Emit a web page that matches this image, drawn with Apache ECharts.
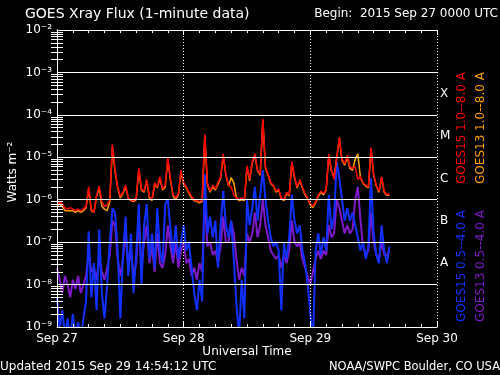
<!DOCTYPE html>
<html><head><meta charset="utf-8">
<script src="https://cdn.jsdelivr.net/npm/echarts@6/dist/echarts.min.js"></script>
<style>html,body{margin:0;padding:0;background:#000;}#c{width:500px;height:375px;}</style>
</head><body><div id="c"></div>
<script>
// ---- data (hours since 2015 Sep 27 00:00 UTC) ----
const hours = [
 0,0.5,1,1.5,2,2.5,3,3.5,4,4.5, 5,5.5,6,6.5,7,7.5,8,8.5,9,9.5,
 10,10.5,11,11.5,12,12.5,13,13.5,14,14.5, 15,15.5,16,16.5,17,17.5,18,18.5,19,19.5,
 20,20.5,21,21.5,22,22.5,23,23.5,24,24.5, 25,25.5,26,26.5,27,27.5,28,28.5,29,29.5,
 30,30.5,31,31.5,32,32.5,33,33.5,34,34.5, 35,35.5,36,36.5,37,37.5,38,38.5,39,39.5,
 40,40.5,41,41.5,42,42.5,43,43.5,44,44.5, 45,45.5,46,46.5,47,47.5,48,48.5,49,49.5,
 50,50.5,51,51.5,52,52.5,53,53.5,54,54.5, 55,55.5,56,56.5,57,57.5,58,58.5,59,59.5,
 60,60.5,61,61.5,62,62.5,63
];
const goes15Long = [
 7.5e-7,9e-7,8e-7,6.5e-7,6e-7,6.5e-7,6e-7,5.5e-7,6e-7,5.5e-7,
 6e-7,7e-7,2e-6,6e-7,5e-7,1.3e-6,2.1e-6,9e-7,7e-7,7.5e-7,
 1e-6,2e-5,5e-6,2e-6,1.2e-6,1.5e-6,2.2e-6,1.1e-6,1e-6,9.5e-7,
 1.1e-6,5.5e-6,1.8e-6,1.6e-6,3e-6,1.2e-6,1e-6,2.5e-6,2e-6,3.5e-6,
 1.8e-6,2.2e-6,1e-5,3e-6,1.3e-6,1.1e-6,1.4e-6,5e-6,2.5e-6,2e-6,
 1.5e-6,1.2e-6,1e-6,9.5e-7,9e-7,9.5e-7,3.5e-5,2.5e-6,1.6e-6,2.2e-6,
 1.8e-6,2.5e-6,3.5e-6,1.2e-5,4e-6,2.2e-6,2e-6,1.3e-6,1.1e-6,1e-6,
 1.1e-6,1e-6,6.3e-6,3e-6,8e-6,1.2e-5,5e-6,4e-6,8e-5,6e-6,
 4e-6,2.5e-6,2.2e-6,1.6e-6,1.8e-6,1.1e-6,1e-6,1.5e-6,1.3e-6,8e-6,
 3.5e-6,2e-6,3e-6,2e-6,1.4e-6,1.1e-6,8e-7,7e-7,9e-7,1.3e-6,
 1.6e-6,1.4e-6,1.8e-6,1.2e-5,5e-6,3e-6,1e-5,3e-5,9e-6,7e-6,
 1.1e-5,6e-6,5.5e-6,6e-6,3e-6,3.5e-6,2.5e-6,2.2e-6,2e-6,1.7e-5,
 4e-6,2.2e-6,1.6e-6,3.5e-6,1.6e-6,1.3e-6,1.4e-6
];
const goes13Long = [
 7e-7,8e-7,7e-7,5.5e-7,5.5e-7,5.5e-7,5.5e-7,5e-7,5.5e-7,5e-7,
 5.5e-7,6.5e-7,1.8e-6,5.5e-7,5e-7,1.2e-6,1.9e-6,7e-7,6e-7,5.5e-7,
 9e-7,1.8e-5,4.5e-6,1.9e-6,1.1e-6,1.4e-6,2e-6,1.1e-6,9.5e-7,9e-7,
 1e-6,5e-6,1.7e-6,1.5e-6,2.8e-6,1.1e-6,9.5e-7,2.3e-6,1.9e-6,3.2e-6,
 1.7e-6,2e-6,9e-6,2.8e-6,1.2e-6,1e-6,1.3e-6,4.5e-6,2.3e-6,1.9e-6,
 1.4e-6,1.1e-6,9.5e-7,9e-7,8.5e-7,9e-7,3.2e-5,2.3e-6,1.5e-6,2e-6,
 1.7e-6,2.3e-6,3.2e-6,1.1e-5,3.8e-6,2.1e-6,3.3e-6,2.5e-6,1.1e-6,9.5e-7,
 1e-6,9.5e-7,6e-6,2.8e-6,7.5e-6,1.1e-5,4.8e-6,3.8e-6,7.5e-5,5.5e-6,
 3.8e-6,2.4e-6,2.1e-6,1.5e-6,1.7e-6,1.05e-6,9.5e-7,1.4e-6,1.25e-6,7.5e-6,
 3.3e-6,1.9e-6,2.8e-6,1.9e-6,1.3e-6,1.05e-6,7.5e-7,6.5e-7,8.5e-7,1.2e-6,
 1.5e-6,1.3e-6,1.7e-6,1.1e-5,4.8e-6,3.5e-6,9.5e-6,2.8e-5,8.5e-6,6.5e-6,
 1e-5,5.5e-6,5e-6,9e-6,1.2e-5,3.3e-6,2.4e-6,2.1e-6,1.9e-6,1.6e-5,
 3.8e-6,2.1e-6,1.5e-6,3.3e-6,1.5e-6,1.25e-6,1.3e-6
];
const goes15Short = [
 5e-9,9e-10,2.5e-9,6.3e-10,1.6e-9,5e-10,2e-9,6.3e-10,1.3e-9,5e-10,
 1.6e-9,4e-9,1.8e-7,5e-9,3.2e-8,2.5e-9,2e-7,6.3e-9,1.6e-9,1e-8,
 1e-7,6.3e-7,5e-7,6.3e-8,1.6e-9,5e-8,4e-7,1.6e-8,1.6e-7,6.3e-9,
 5e-8,7.9e-7,1e-8,2.5e-7,7.9e-7,4e-8,1.6e-7,2.5e-8,6.3e-7,6.3e-8,
 3.2e-8,7.9e-7,1e-6,2e-7,5e-8,2.5e-7,4e-8,1e-7,2.5e-7,6.3e-8,
 1e-7,2.5e-8,6.3e-9,2.5e-9,1.3e-8,4e-9,4e-6,1.6e-7,4e-7,1.3e-7,
 3.2e-7,2.5e-8,2.5e-7,1.6e-6,2.5e-7,1.3e-7,3.2e-7,4e-8,3.2e-9,6.3e-10,
 1.3e-8,1.6e-9,1e-6,2.5e-7,6.3e-7,2e-6,3.2e-7,1.3e-6,5e-6,1e-6,
 3.2e-7,1.3e-7,7.9e-8,1e-7,6.3e-8,2.5e-9,1e-7,4e-8,1.3e-7,1.3e-6,
 3.2e-7,1.6e-7,2.5e-7,6.3e-8,3.2e-8,1e-8,2e-9,5e-10,6.3e-8,1.6e-7,
 5e-8,1.3e-7,6.3e-8,1.3e-6,2e-7,4e-7,7.9e-6,3.2e-6,1e-6,3.2e-7,
 6.3e-7,3.2e-7,5e-7,2.5e-7,1.3e-7,6.3e-8,1e-7,4e-8,7.9e-8,3.2e-6,
 1.6e-7,5e-8,3.2e-8,2.5e-7,6.3e-8,3.2e-8,7.9e-8
];
const goes13Short = [
 2.5e-8,1.3e-8,6.3e-9,1.6e-8,1e-8,5e-9,1.3e-8,7.9e-9,1.6e-8,6.3e-9,
 1e-8,1.6e-8,6.3e-8,2e-8,2.5e-8,1.3e-8,4e-8,2e-8,1.3e-8,2.5e-8,
 5e-8,3.2e-7,2.5e-7,4e-8,1.6e-8,4e-8,1.6e-7,2.5e-8,6.3e-8,1.6e-8,
 3.2e-8,3.2e-7,2.5e-8,1e-7,2.5e-7,3.2e-8,7.9e-8,2e-8,1.6e-7,3.2e-8,
 2.5e-8,5e-8,2.5e-7,7.9e-8,3.2e-8,1e-7,2.5e-8,6.3e-8,1e-7,3.2e-8,
 4e-8,1.6e-8,2.5e-8,1.3e-8,3.2e-8,2e-8,1e-6,7.9e-8,1e-7,5e-8,
 6.3e-8,3.2e-8,7.9e-8,4e-7,1e-7,1e-7,3.2e-7,1.6e-7,4e-8,1.3e-8,
 2.5e-8,1.6e-8,1.6e-7,1e-7,1.6e-7,5e-7,1.3e-7,2.5e-7,1e-6,2.5e-7,
 1.3e-7,6.3e-8,5e-8,4e-8,5e-8,2.5e-8,5e-8,3.2e-8,6.3e-8,3.2e-7,
 1e-7,7.9e-8,1e-7,4e-8,2.5e-8,1.6e-8,1e-8,2e-8,4e-8,6.3e-8,
 4e-8,6.3e-8,5e-8,2.5e-7,1.3e-7,1.6e-7,1e-6,6.3e-7,3.2e-7,1.6e-7,
 2.5e-7,1.6e-7,2e-7,1e-6,2e-6,3.2e-7,7.9e-8,5e-8,6.3e-8,5e-7,
 1e-7,5e-8,4e-8,1e-7,5e-8,5e-8,6.3e-8
];
const dayLabels = ['Sep 27','Sep 28','Sep 29','Sep 30'];
const decadeValues = [1e-9,1e-8,1e-7,1e-6,1e-5,1e-4,1e-3,1e-2];
const decadeLabels = ['10⁻⁹','10⁻⁸','10⁻⁷','10⁻⁶','10⁻⁵','10⁻⁴','10⁻³','10⁻²'];
const classValues = [3.162e-4,3.162e-5,3.162e-6,3.162e-7,3.162e-8];
const classLabels = ['X','M','C','B','A'];
const seriesNames = ['GOES13 0.5--4.0 A','GOES15 0.5--4.0 A','GOES13 1.0--8.0 A','GOES15 1.0--8.0 A'];
const seriesColors = ['#7f18c8','#1030ff','#ffa000','#ff0000'];
const seriesWidths = [2, 2, 1.5, 1.5];

// ---- minor log ticks (2..9 per decade) ----
const minorTicks = [];
for (let e = -9; e < -2; e++) for (let m = 2; m <= 9; m++) minorTicks.push(m * Math.pow(10, e));

const FONT = 'DejaVu Sans';
const W = '#ffffff';
const pair = ys => hours.map((h, i) => [h, ys[i]]);
const seriesData = [goes13Short, goes15Short, goes13Long, goes15Long];

const xBase = {
  type: 'value', min: 0, max: 72, interval: 24, z: 4,
  axisLine: { show: true, lineStyle: { color: W, width: 1 } },
  axisTick: { show: true, inside: true, length: 5, lineStyle: { color: W } },
  minorTick: { show: true, splitNumber: 8, length: 3, lineStyle: { color: W } },
  minorSplitLine: { show: false }
};
const yBase = {
  type: 'log', logBase: 10, min: 1e-9, max: 1e-2, interval: 1, z: 4,
  axisLine: { show: true, lineStyle: { color: W, width: 1 } },
  minorTick: { show: false }
};
const minorTickStyle = { show: true, inside: true, length: 6, customValues: minorTicks, lineStyle: { color: W } };

const chart = echarts.init(document.getElementById('c'), null, { renderer: 'canvas' });
chart.setOption({
  backgroundColor: '#000',
  animation: false,
  grid: { left: 57, right: 63, top: 30, bottom: 48, containLabel: false },
  xAxis: [
    Object.assign({}, xBase, {
      position: 'bottom',
      axisLabel: { color: W, fontFamily: FONT, fontSize: 12, margin: 6,
        formatter: v => dayLabels[Math.round(v / 24)] },
      splitLine: { show: true, lineStyle: { color: W, width: 1, type: [1, 2] } }
    }),
    Object.assign({}, xBase, {
      position: 'top',
      axisLabel: { show: false },
      splitLine: { show: false }
    })
  ],
  yAxis: [
    Object.assign({}, yBase, {
      position: 'left',
      axisTick: { show: false },
      axisLabel: { color: W, fontFamily: FONT, fontSize: 12, margin: 5,
        formatter: v => decadeLabels[Math.round(Math.log10(v)) + 9] },
      splitLine: { show: true, lineStyle: { color: W, width: 1 } }
    }),
    Object.assign({}, yBase, {
      position: 'right',
      axisTick: minorTickStyle,
      axisLabel: { color: W, fontFamily: FONT, fontSize: 12, margin: 3,
        customValues: classValues,
        formatter: v => classLabels[Math.round(-Math.log10(v) - 3.5)] },
      splitLine: { show: false }
    }),
    Object.assign({}, yBase, {
      position: 'left',
      axisTick: minorTickStyle,
      axisLabel: { show: false },
      splitLine: { show: false }
    })
  ],
  series: seriesData.map((d, i) => ({
    name: seriesNames[i], type: 'line', data: pair(d),
    symbol: 'none', showSymbol: false, z: 2 + i * 0.1,
    lineStyle: { color: seriesColors[i], width: seriesWidths[i] },
    xAxisIndex: 0, yAxisIndex: 0
  })),
  graphic: [
    { type: 'text', x: 25, y: 14, style: { text: 'GOES Xray Flux (1-minute data)', fill: W, font: '14px ' + FONT, align: 'left', verticalAlign: 'middle' } },
    { type: 'text', x: 498, y: 14, style: { text: 'Begin:  2015 Sep 27 0000 UTC', fill: W, font: '12px ' + FONT, align: 'right', verticalAlign: 'middle' } },
    { type: 'text', x: 13, y: 172, rotation: Math.PI / 2, style: { text: 'Watts m⁻²', fill: W, font: '12px ' + FONT, align: 'center', verticalAlign: 'middle' } },
    { type: 'text', x: 247, y: 352, style: { text: 'Universal Time', fill: W, font: '12px ' + FONT, align: 'center', verticalAlign: 'middle' } },
    { type: 'text', x: 0, y: 367, style: { text: 'Updated 2015 Sep 29 14:54:12 UTC', fill: W, font: '12px ' + FONT, align: 'left', verticalAlign: 'middle' } },
    { type: 'text', x: 500, y: 367, style: { text: 'NOAA/SWPC Boulder, CO USA', fill: W, font: '11.5px ' + FONT, align: 'right', verticalAlign: 'middle' } },
    { type: 'text', x: 462, y: 128, rotation: Math.PI / 2, style: { text: seriesNames[3], fill: seriesColors[3], font: '12px ' + FONT, align: 'center', verticalAlign: 'middle' } },
    { type: 'text', x: 481, y: 128, rotation: Math.PI / 2, style: { text: seriesNames[2], fill: seriesColors[2], font: '12px ' + FONT, align: 'center', verticalAlign: 'middle' } },
    { type: 'text', x: 462, y: 266, rotation: Math.PI / 2, style: { text: seriesNames[1], fill: seriesColors[1], font: '12px ' + FONT, align: 'center', verticalAlign: 'middle' } },
    { type: 'text', x: 481, y: 266, rotation: Math.PI / 2, style: { text: seriesNames[0], fill: seriesColors[0], font: '12px ' + FONT, align: 'center', verticalAlign: 'middle' } }
  ]
});
</script></body></html>
